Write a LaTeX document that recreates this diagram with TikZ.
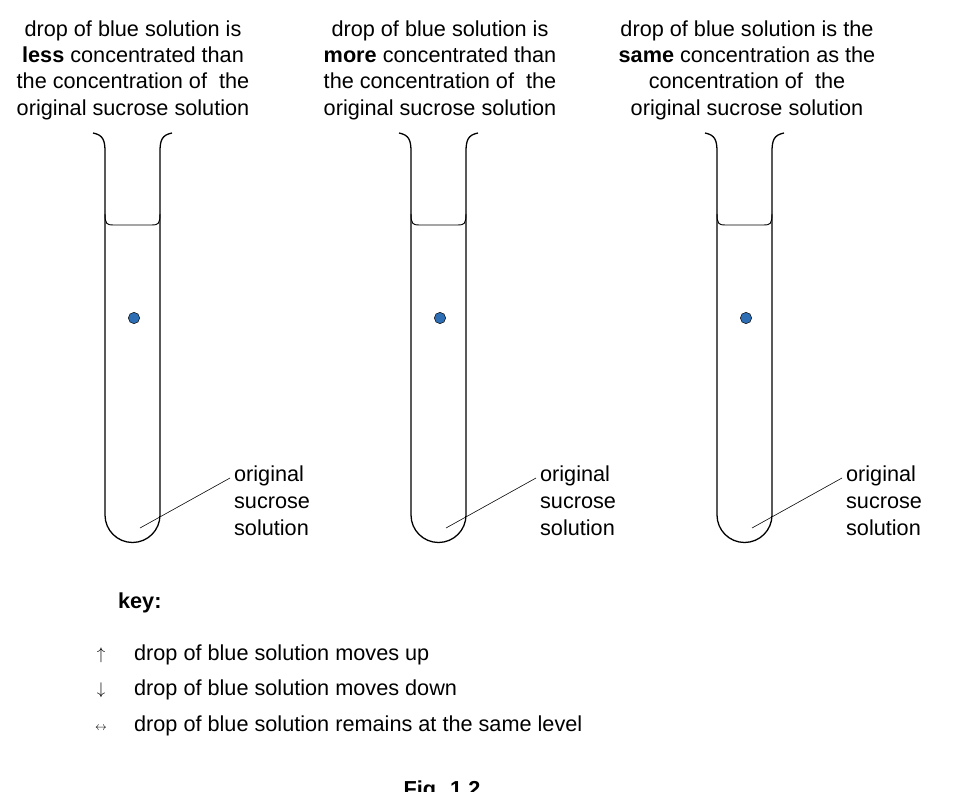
\documentclass[tikz,border=0pt]{standalone}
\usepackage{fontspec}
\setmainfont{Liberation Sans}
\usepackage{amssymb}
\definecolor{dropblue}{RGB}{46,110,180}
\tikzset{
    caption/.style={align=center, font=\fontsize{18.5}{22.5}\selectfont},
    lbl/.style={align=left, anchor=west, font=\fontsize{18.5}{23}\selectfont},
    wall/.style={line width=1.1pt},
}
\begin{document}
\begin{tikzpicture}[x=0.03cm, y=-0.03cm]
    \useasboundingbox (0,0) rectangle (953,792);

    % 三支试管
    \foreach \dx [count=\i] in {0,306,612}{
        \begin{scope}[xshift=\dx*0.03cm]
            % 管壁
            \draw[wall] (93,133) .. controls (103,135) and (105,140) .. (105,152)
                -- (105,515) arc[start angle=180, end angle=0, radius=27.5]
                -- (160,152) .. controls (160,140) and (162,135) .. (172,133);
            % 液面
            \draw[line width=0.8pt] (105,214) .. controls (105,224) and (107,225) .. (113,225)
                -- (152,225) .. controls (158,225) and (160,224) .. (160,214);
            % 蓝色液滴
            \node[circle, draw, fill=dropblue, inner sep=0pt, minimum size=0.34cm] (drop\i) at (134,318) {};
            % 标签
            \node[lbl] (sol\i) at (230,501) {original\\sucrose\\solution};
            \coordinate (tip\i) at (140,528);
            \coordinate (end\i) at (230,478);
            \draw[line width=0.5pt] (tip\i) -- (end\i);
        \end{scope}
    }

    % 顶部说明
    \node[caption] (cap1) at (133,70) {drop of blue solution is\\\textbf{less} concentrated than\\the concentration of\ \ the\\original sucrose solution};
    \node[caption] (cap2) at (440,70) {drop of blue solution is\\\textbf{more} concentrated than\\the concentration of\ \ the\\original sucrose solution};
    \node[caption] (cap3) at (747,70) {drop of blue solution is the\\\textbf{same} concentration as the\\concentration of\ \ the\\original sucrose solution};

    % 图例
    \node[lbl] (key) at (114,603) {\textbf{key:}};
    \node (up) at (101,655) {\Large$\uparrow$};
    \node (down) at (101,690) {\Large$\downarrow$};
    \node (same) at (101,728) {$\leftrightarrow$};
    \node[lbl] (tup) at (130,655) {drop of blue solution moves up};
    \node[lbl] (tdown) at (130,690) {drop of blue solution moves down};
    \node[lbl] (tsame) at (130,726) {drop of blue solution remains at the same level};

    \node[caption, anchor=north] (fig) at (442,777) {\textbf{Fig. 1.2}};
\end{tikzpicture}
\end{document}
